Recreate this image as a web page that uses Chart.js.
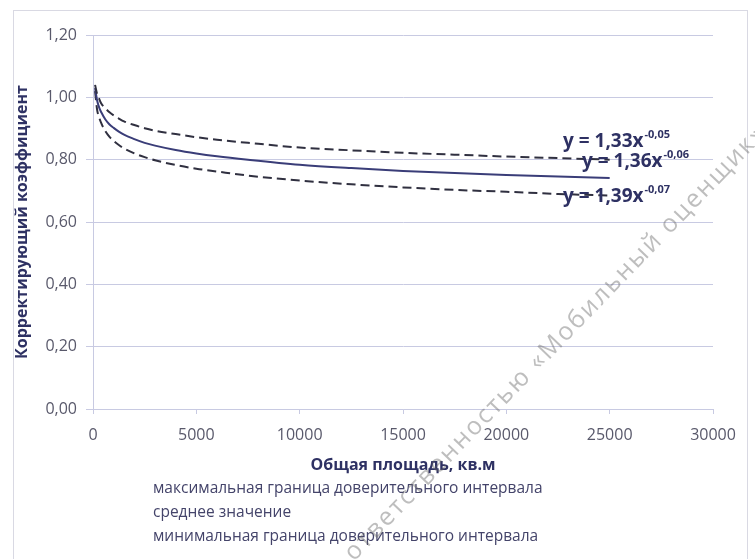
<!DOCTYPE html>
<html>
<head>
<meta charset="utf-8">
<script src="https://cdn.jsdelivr.net/npm/chart.js@4.4.0/dist/chart.umd.min.js"></script>
<style>
  html, body { margin: 0; padding: 0; background: #fff; }
  canvas { display: block; }
</style>
</head>
<body>
<canvas id="koef" width="755" height="559"></canvas>
<script>
// общая площадь, кв.м
const areas = [100, 200, 300, 400, 600, 800, 1000, 1250, 1500, 2000, 2500, 3000, 4000, 5000, 6000, 7500, 10000, 12500, 15000, 17500, 20000, 22500, 25000];
// корректирующий коэффициент
const maxBound  = [1.04, 1.01, 0.995, 0.98, 0.965, 0.952, 0.942, 0.932, 0.923, 0.911, 0.901, 0.893, 0.882, 0.872, 0.864, 0.854, 0.839, 0.83, 0.822, 0.816, 0.81, 0.805, 0.80];
const meanValue = [1.03, 0.99, 0.967, 0.952, 0.929, 0.913, 0.902, 0.89, 0.88, 0.866, 0.854, 0.845, 0.831, 0.82, 0.811, 0.8, 0.784, 0.773, 0.764, 0.757, 0.751, 0.746, 0.741];
const minBound  = [1.02, 0.96, 0.935, 0.917, 0.891, 0.873, 0.86, 0.847, 0.836, 0.82, 0.808, 0.798, 0.783, 0.771, 0.762, 0.749, 0.733, 0.721, 0.711, 0.703, 0.697, 0.69, 0.685];

const seriesNames = [
  "максимальная граница доверительного интервала",
  "среднее значение",
  "минимальная граница доверительного интервала",
];
const equations = [
  ["y = 1,33x", "-0,05"],
  ["y = 1,36x", "-0,06"],
  ["y = 1,39x", "-0,07"],
];
const watermark = "ответственностью «Мобильный оценщик»";

const FONT = "'Open Sans', sans-serif";
const gridColor = "#c8cae2";
const navy = "#2e3163";

const pts = (ys) => ys.map((y, i) => ({ x: areas[i], y: y }));

// фон, рамка, подписи уравнений, легенда, водяной знак
const decor = {
  id: "decor",
  beforeDraw(chart) {
    const c = chart.ctx;
    c.save();
    c.fillStyle = "#fff";
    c.fillRect(0, 0, chart.width, chart.height);
    c.strokeStyle = "#d9d9e3";
    c.lineWidth = 1;
    c.strokeRect(13.5, 10.5, 734, 560);
    c.restore();
  },
  afterDraw(chart) {
    const c = chart.ctx;
    c.save();
    // уравнения трендов
    const eqPos = [[563, 142], [582, 162], [563, 197]];
    equations.forEach((eq, i) => {
      const [x, y] = eqPos[i];
      c.fillStyle = navy;
      c.textBaseline = "middle";
      c.font = "bold 19px " + FONT;
      c.fillText(eq[0], x, y);
      const w = c.measureText(eq[0]).width;
      c.font = "bold 11px " + FONT;
      c.fillText(eq[1], x + w + 1, y - 7);
    });
    // легенда
    c.font = "15.5px " + FONT;
    c.fillStyle = "#44446a";
    c.textBaseline = "middle";
    const rows = [489, 513, 537];
    chart.data.datasets.forEach((ds, i) => {
      c.fillText(ds.label, 153, rows[i]);
    });
    // водяной знак
    c.translate(354, 562);
    c.rotate(-46 * Math.PI / 180);
    c.font = "25px " + FONT;
    c.letterSpacing = "2px";
    c.fillStyle = "rgba(100,100,100,0.42)";
    c.textBaseline = "alphabetic";
    c.fillText(watermark, 0, 0);
    c.restore();
  },
};

new Chart(document.getElementById("koef"), {
  type: "line",
  data: {
    datasets: [
      {
        label: seriesNames[0],
        data: pts(maxBound),
        borderColor: "#303040",
        borderWidth: 2,
        borderDash: [9, 5],
        pointRadius: 0,
        cubicInterpolationMode: "monotone",
      },
      {
        label: seriesNames[1],
        data: pts(meanValue),
        borderColor: "#3a3d78",
        borderWidth: 2,
        pointRadius: 0,
        cubicInterpolationMode: "monotone",
      },
      {
        label: seriesNames[2],
        data: pts(minBound),
        borderColor: "#303040",
        borderWidth: 2,
        borderDash: [9, 5],
        pointRadius: 0,
        cubicInterpolationMode: "monotone",
      },
    ],
  },
  options: {
    responsive: false,
    animation: false,
    devicePixelRatio: 1,
    layout: {
      padding: { left: 13, top: 35, right: 42, bottom: 0 },
    },
    plugins: {
      legend: { display: false },
      tooltip: { enabled: false },
    },
    scales: {
      x: {
        type: "linear",
        min: 0,
        max: 30000,
        afterFit: (s) => { s.height = 150; },
        grid: {
          drawOnChartArea: false,
          color: gridColor,
          tickLength: 5,
        },
        border: { color: gridColor },
        ticks: {
          stepSize: 5000,
          padding: 12,
          color: "#59596b",
          font: { family: FONT, size: 16 },
          callback: (v) => String(v),
        },
        title: {
          display: true,
          text: "Общая площадь, кв.м",
          color: navy,
          font: { family: FONT, size: 16, weight: "bold" },
          padding: { top: 0, bottom: 559 - 465 - 10 },
        },
      },
      y: {
        min: 0,
        max: 1.2,
        afterFit: (s) => { s.width = 80; },
        grid: {
          color: gridColor,
          tickLength: 7,
        },
        border: { color: gridColor },
        ticks: {
          stepSize: 0.2,
          padding: 9,
          color: "#59596b",
          font: { family: FONT, size: 16 },
          callback: (v) => v.toFixed(2).replace(".", ","),
        },
        title: {
          display: true,
          text: "Корректирующий коэффициент",
          color: navy,
          font: { family: FONT, size: 16, weight: "bold" },
          padding: { top: 0, bottom: 0 },
        },
      },
    },
  },
  plugins: [decor],
});
</script>
</body>
</html>
